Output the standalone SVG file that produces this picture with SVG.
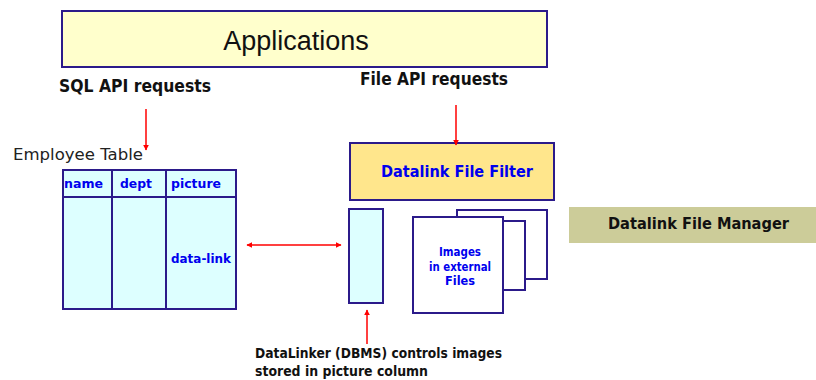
<svg xmlns="http://www.w3.org/2000/svg" width="816" height="380" viewBox="0 0 816 380">
<style>
.box{stroke:#2B1A8A;stroke-width:2}
.cyan{fill:#DDFFFF}
.lbl{font-family:"DejaVu Sans",Verdana,sans-serif;font-weight:bold}
.blue{fill:#0000EE}
.blk{fill:#111}
.arr{stroke:#FF0000;stroke-width:1.5;fill:none}
</style>
<defs>
<marker id="ah" viewBox="0 0 10 10" refX="9" refY="5" markerWidth="6" markerHeight="6" orient="auto-start-reverse" markerUnits="userSpaceOnUse">
<path d="M0,0 L10,5 L0,10 z" fill="#FF0000"/>
</marker>
</defs>
<rect width="816" height="380" fill="#fff"/>
<g id="applications">
<rect class="box" x="62" y="11" width="485" height="56" fill="#FFFFCC"/>
<text x="296" y="50" font-family="Liberation Sans,Arial,sans-serif" font-size="27" text-anchor="middle" fill="#111">Applications</text>
</g>
<g id="sql-label"><text class="lbl blk" x="59" y="92" font-size="17.5" textLength="152" lengthAdjust="spacingAndGlyphs">SQL API requests</text></g>
<g id="file-label"><text class="lbl blk" x="360" y="85" font-size="17" textLength="148" lengthAdjust="spacingAndGlyphs">File API requests</text></g>
<g id="employee-table">
<text x="13" y="160" font-family="DejaVu Sans,Verdana,sans-serif" font-size="15" fill="#222" textLength="130" lengthAdjust="spacingAndGlyphs">Employee Table</text>
<rect class="box cyan" x="63" y="170" width="173" height="139"/>
<line class="box" x1="63" y1="197" x2="236" y2="197"/>
<line class="box" x1="112" y1="170" x2="112" y2="309"/>
<line class="box" x1="166" y1="170" x2="166" y2="309"/>
<text class="lbl blue" x="64" y="188" font-size="13" textLength="39" lengthAdjust="spacingAndGlyphs">name</text>
<text class="lbl blue" x="120" y="188" font-size="13" textLength="32" lengthAdjust="spacingAndGlyphs">dept</text>
<text class="lbl blue" x="171" y="188" font-size="13" textLength="50" lengthAdjust="spacingAndGlyphs">picture</text>
<text class="lbl blue" x="171" y="263" font-size="12.5" textLength="60" lengthAdjust="spacingAndGlyphs">data-link</text>
</g>
<g id="file-filter">
<rect class="box" x="350" y="143" width="204" height="57" fill="#FFE68C"/>
<text class="lbl blue" x="381" y="177" font-size="16" textLength="152" lengthAdjust="spacingAndGlyphs">Datalink File Filter</text>
</g>
<g id="picture-column">
<rect class="box cyan" x="349" y="209" width="34" height="94"/>
</g>
<g id="external-files">
<rect class="box" x="457" y="210" width="90" height="69" fill="#fff"/>
<rect class="box" x="435" y="221" width="90" height="69" fill="#fff"/>
<rect class="box" x="413" y="217" width="90" height="96" fill="#fff"/>
<text class="lbl blue" font-size="12" text-anchor="middle"><tspan x="460" y="256" textLength="42" lengthAdjust="spacingAndGlyphs">Images</tspan><tspan x="460" y="271" textLength="62" lengthAdjust="spacingAndGlyphs">in external</tspan><tspan x="460" y="285" textLength="30" lengthAdjust="spacingAndGlyphs">Files</tspan></text>
</g>
<g id="file-manager">
<rect x="569" y="207" width="247" height="36" fill="#CCCC99"/>
<text class="lbl blk" x="608" y="229" font-size="16" textLength="181" lengthAdjust="spacingAndGlyphs">Datalink File Manager</text>
</g>
<g id="datalinker-label">
<text class="lbl blk" font-size="13.5"><tspan x="255" y="358" textLength="247" lengthAdjust="spacingAndGlyphs">DataLinker (DBMS) controls images</tspan><tspan x="255" y="376" textLength="173" lengthAdjust="spacingAndGlyphs">stored in picture column</tspan></text>
</g>
<g id="connectors">
<line class="arr" x1="146" y1="109" x2="146" y2="150" marker-end="url(#ah)"/>
<line class="arr" x1="456" y1="105" x2="456" y2="145" marker-end="url(#ah)"/>
<line class="arr" x1="247" y1="245" x2="341" y2="245" marker-start="url(#ah)" marker-end="url(#ah)"/>
<line class="arr" x1="367" y1="344" x2="367" y2="310" marker-end="url(#ah)"/>
</g>
</svg>
